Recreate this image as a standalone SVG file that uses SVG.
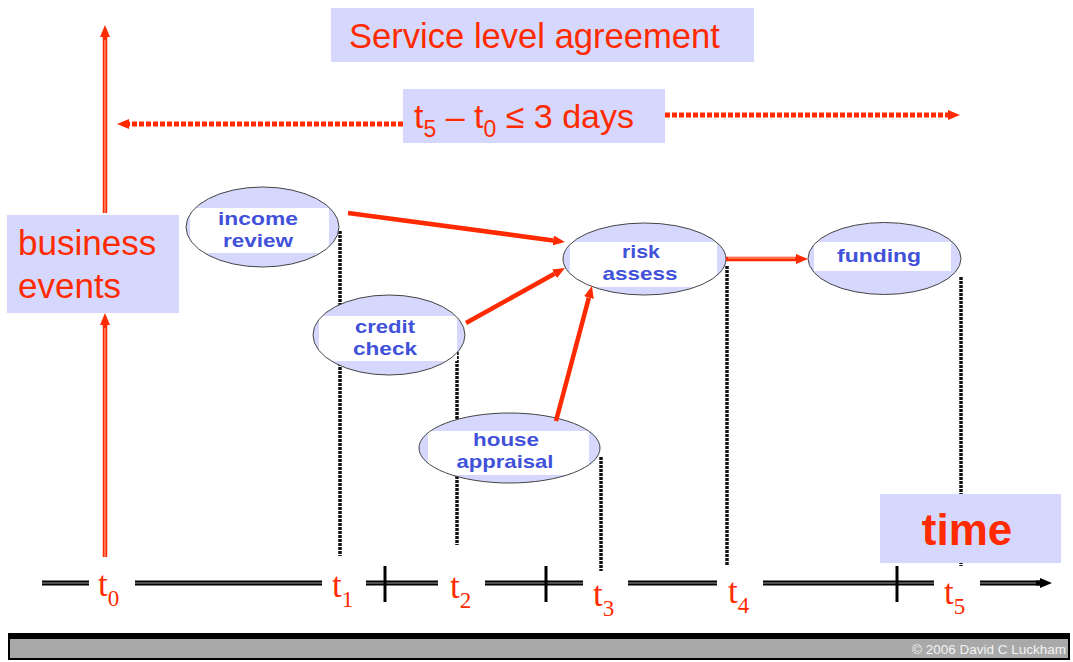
<svg xmlns="http://www.w3.org/2000/svg" width="1073" height="662" viewBox="0 0 1073 662">
<style>
.lav{fill:#d5d7fc}
.lbl{font-family:"Liberation Sans",Arial,sans-serif;fill:#ff2a00}
.nd{font-family:"Liberation Sans",Arial,sans-serif;font-weight:bold;font-size:18.5px;fill:#4151d9;text-anchor:middle}
.ell{fill:#d5d7fc}
.ello{fill:none;stroke:#444;stroke-width:1}
.band{fill:#fff}
.vdot{stroke:#111;stroke-width:3.5;stroke-dasharray:3 1;fill:none}
.rl{stroke:#ff2a00;stroke-width:4.5;fill:none}
.rc{stroke:#ffb5a5;stroke-width:1;fill:none}
.rdot{stroke:#ff2a00;stroke-width:5;stroke-dasharray:5 2;fill:none}
.tl{stroke:#000;stroke-width:5;fill:none}
.tlc{stroke:#c8c8c8;stroke-width:0.8;fill:none}
.tk{stroke:#000;stroke-width:3}
.tt{font-family:"Liberation Serif","Times New Roman",serif;font-size:35px;fill:#ff2a00}
</style>
<defs>
<marker id="ah" viewBox="0 0 12 10" refX="0" refY="5" markerWidth="12" markerHeight="10" markerUnits="userSpaceOnUse" orient="auto">
<path d="M0,0 L12,5 L0,10 z" fill="#ff2a00"/>
</marker>
<marker id="bh" viewBox="0 0 12 10" refX="0" refY="5" markerWidth="12" markerHeight="10" markerUnits="userSpaceOnUse" orient="auto">
<path d="M0,0 L12,5 L0,10 z" fill="#000"/>
</marker>
</defs>
<rect width="1073" height="662" fill="#fff"/>

<g id="timeline">
<g>
<path class="tl" d="M42,583H89 M135,583H322 M366,583H438 M485,583H583 M628,583H717 M763,583H934 M980,583H1040"/>
<path class="tlc" d="M42,583H89 M135,583H322 M366,583H438 M485,583H583 M628,583H717 M763,583H934 M980,583H1038"/>
<line x1="1036" y1="583" x2="1040" y2="583" stroke="#000" stroke-width="5" marker-end="url(#bh)"/>
</g>
<line class="tk" x1="385" y1="566" x2="385" y2="602"/>
<line class="tk" x1="546" y1="566" x2="546" y2="602"/>
<line class="tk" x1="897" y1="566" x2="897" y2="602"/>
<text class="tt" x="98" y="596">t<tspan font-size="23" dy="10">0</tspan></text>
<text class="tt" x="332" y="597">t<tspan font-size="23" dy="10">1</tspan></text>
<text class="tt" x="450" y="598">t<tspan font-size="23" dy="10">2</tspan></text>
<text class="tt" x="593" y="606">t<tspan font-size="23" dy="10">3</tspan></text>
<text class="tt" x="728" y="603">t<tspan font-size="23" dy="10">4</tspan></text>
<text class="tt" x="944" y="604">t<tspan font-size="23" dy="10">5</tspan></text>
</g>

<g id="time-lines">
<line class="vdot" x1="340" y1="231" x2="340" y2="556"/>
<line class="vdot" x1="457" y1="348" x2="457" y2="545"/>
<line class="vdot" x1="601" y1="457" x2="601" y2="571"/>
<line class="vdot" x1="727" y1="266" x2="727" y2="566"/>
<line class="vdot" x1="961" y1="277" x2="961" y2="566"/>
</g>

<g id="footer">
<rect x="8" y="633" width="1062" height="27" fill="#000"/>
<rect x="10" y="639" width="1058" height="19" fill="#a9a9a9"/>
<text x="1066" y="654" font-family="'Liberation Sans',Arial,sans-serif" font-size="13.5" fill="#f2f2f2" text-anchor="end">© 2006 David C Luckham</text>
</g>

<g id="service-level-agreement">
<rect class="lav" x="331" y="8" width="423" height="54"/>
<text class="lbl" x="349" y="48" font-size="34.6">Service level agreement</text>
</g>

<g id="sla-constraint">
<rect class="lav" x="403" y="89" width="262" height="54"/>
<text class="lbl" x="414" y="128" font-size="34">t<tspan font-size="23" dy="9">5</tspan><tspan dy="-9"> – t</tspan><tspan font-size="23" dy="9">0</tspan><tspan dy="-9"> ≤ 3 days</tspan></text>
</g>

<g id="business-events">
<rect class="lav" x="7" y="215" width="172" height="98"/>
<text class="lbl" x="18" y="255" font-size="35">business</text>
<text class="lbl" x="18" y="298" font-size="35">events</text>
</g>

<g id="time-label">
<rect class="lav" x="880" y="494" width="181" height="69"/>
<text x="967" y="545" font-family="'Liberation Sans',Arial,sans-serif" font-weight="bold" font-size="44" fill="#ff2a00" text-anchor="middle">time</text>
</g>

<g id="node-income-review">
<ellipse class="ell" cx="262.5" cy="227" rx="76.5" ry="40"/>
<rect class="band" x="190" y="208" width="139" height="45"/>
<ellipse class="ello" cx="262.5" cy="227" rx="76.5" ry="40"/>
<text class="nd" x="258" y="225" textLength="80" lengthAdjust="spacingAndGlyphs">income</text>
<text class="nd" x="258" y="246.5" textLength="70" lengthAdjust="spacingAndGlyphs">review</text>
</g>

<g id="node-credit-check">
<ellipse class="ell" cx="389" cy="335" rx="76" ry="40"/>
<rect class="band" x="319" y="316" width="138" height="45"/>
<ellipse class="ello" cx="389" cy="335" rx="76" ry="40"/>
<text class="nd" x="385" y="333" textLength="60" lengthAdjust="spacingAndGlyphs">credit</text>
<text class="nd" x="385" y="354.5" textLength="64" lengthAdjust="spacingAndGlyphs">check</text>
</g>

<g id="node-house-appraisal">
<ellipse class="ell" cx="509.5" cy="448" rx="90.5" ry="35"/>
<rect class="band" x="428" y="431" width="161" height="44"/>
<ellipse class="ello" cx="509.5" cy="448" rx="90.5" ry="35"/>
<text class="nd" x="506" y="446" textLength="66" lengthAdjust="spacingAndGlyphs">house</text>
<text class="nd" x="505" y="467.5" textLength="97" lengthAdjust="spacingAndGlyphs">appraisal</text>
</g>

<g id="node-risk-assess">
<ellipse class="ell" cx="644.5" cy="259" rx="81.5" ry="36"/>
<rect class="band" x="570" y="242" width="147" height="45"/>
<ellipse class="ello" cx="644.5" cy="259" rx="81.5" ry="36"/>
<text class="nd" x="641" y="258" textLength="38" lengthAdjust="spacingAndGlyphs">risk</text>
<text class="nd" x="640" y="279.5" textLength="75" lengthAdjust="spacingAndGlyphs">assess</text>
</g>

<g id="node-funding">
<ellipse class="ell" cx="884.5" cy="258.5" rx="76.5" ry="36"/>
<rect class="band" x="814" y="242" width="137" height="29"/>
<ellipse class="ello" cx="884.5" cy="258.5" rx="76.5" ry="36"/>
<text class="nd" x="879" y="262" font-size="22" textLength="84" lengthAdjust="spacingAndGlyphs">funding</text>
</g>

<g id="connectors">
<line class="rl" x1="105" y1="213" x2="105" y2="37" marker-end="url(#ah)"/>
<line class="rc" x1="105" y1="213" x2="105" y2="40"/>
<line class="rl" x1="105" y1="557" x2="105" y2="325" marker-end="url(#ah)"/>
<line class="rc" x1="105" y1="557" x2="105" y2="328"/>
<line class="rdot" x1="403" y1="124" x2="129" y2="124" marker-end="url(#ah)"/>
<line class="rdot" x1="665" y1="115" x2="948" y2="115" marker-end="url(#ah)"/>
<line class="rl" x1="348" y1="213" x2="553.1" y2="240.4" marker-end="url(#ah)"/>
<line class="rl" x1="466" y1="323" x2="554.5" y2="273.8" marker-end="url(#ah)"/>
<line class="rl" x1="556" y1="421" x2="588.9" y2="297.6" marker-end="url(#ah)"/>
<line class="rl" x1="726" y1="259" x2="796" y2="259" marker-end="url(#ah)"/>
<line class="rc" x1="728" y1="258" x2="795" y2="258"/>
</g>
</svg>
